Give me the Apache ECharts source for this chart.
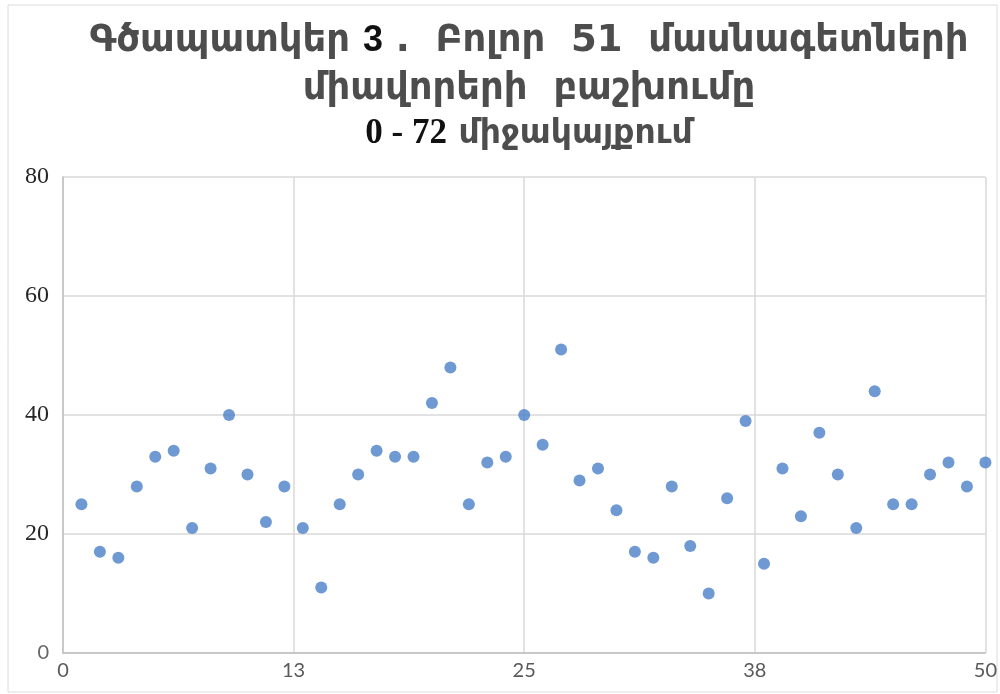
<!DOCTYPE html>
<html>
<head>
<meta charset="utf-8">
<script src="https://cdn.jsdelivr.net/npm/echarts@6/dist/echarts.min.js"></script>
<style>
html,body{margin:0;padding:0;background:#fff;}
#chart{width:1000px;height:694px;}
</style>
</head>
<body>
<div id="chart"></div>
<script>
const specialistIds = [1,2,3,4,5,6,7,8,9,10,11,12,13,14,15,16,17,18,19,20,21,22,23,24,25,26,27,28,29,30,31,32,33,34,35,36,37,38,39,40,41,42,43,44,45,46,47,48,49,50];
const scores = [25,17,16,28,33,34,21,31,40,30,22,28,21,11,25,30,34,33,33,42,48,25,32,33,40,35,51,29,31,24,17,16,28,18,10,26,39,15,31,23,37,30,21,44,25,25,30,32,28,32];
const yTicks = [0,20,40,60,80];
const xTickLabels = ['0','13','25','38','50'];

const points = specialistIds.map((id, i) => [id, scores[i]]);

const chart = echarts.init(document.getElementById('chart'));
chart.setOption({
  backgroundColor: '#ffffff',
  animation: false,
  graphic: [{
    type: 'rect',
    shape: {x: 8, y: 5, width: 989, height: 687},
    style: {fill: 'none', stroke: '#dcdcdc', lineWidth: 1}
  }],
  title: {
    left: 524,
    top: 12,
    textAlign: 'center',
    text: '{a|Գծապատկեր }{b|3}{a| .  Բոլոր  51  մասնագետների}\n{a|միավորերի  բաշխումը}\n{c|0 - 72}{d| միջակայքում}',
    textStyle: {
      rich: {
        a: {fontFamily: 'DejaVu Sans', fontWeight: 'bold', fontSize: 37, color: '#4d4d4d', lineHeight: 48},
        b: {fontFamily: 'Liberation Sans', fontWeight: 'bold', fontSize: 36, color: '#111', lineHeight: 48},
        c: {fontFamily: 'Liberation Serif', fontWeight: 'bold', fontSize: 35, color: '#111', lineHeight: 42},
        d: {fontFamily: 'DejaVu Sans', fontWeight: 'bold', fontSize: 33, color: '#4d4d4d', lineHeight: 42}
      }
    }
  },
  grid: {left: 63, right: 13, top: 177, bottom: 41, containLabel: false},
  xAxis: {
    type: 'value',
    min: 0, max: 50, interval: 12.5,
    axisLine: {show: true, lineStyle: {color: '#bfbfbf', width: 1.5}},
    axisTick: {show: false},
    splitLine: {show: true, lineStyle: {color: '#d9d9d9', width: 1.5}},
    axisLabel: {
      margin: 8,
      fontFamily: 'Lato', fontSize: 20, color: '#595959',
      formatter: v => xTickLabels[Math.round(v / 12.5)]
    }
  },
  yAxis: {
    type: 'value',
    min: yTicks[0], max: yTicks[yTicks.length - 1], interval: 20,
    axisLine: {show: true, lineStyle: {color: '#bfbfbf', width: 1.5}},
    axisTick: {show: false},
    splitLine: {show: true, lineStyle: {color: '#d9d9d9', width: 1.5}},
    axisLabel: {
      margin: 14,
      fontFamily: 'Liberation Serif', fontSize: 24, color: '#262626',
      formatter: v => v === 0 ? '{z|0}' : String(v),
      rich: {z: {fontFamily: 'Lato', fontSize: 20, color: '#666'}}
    }
  },
  series: [{
    type: 'scatter',
    data: points,
    symbol: 'circle',
    symbolSize: 12,
    itemStyle: {color: '#4a80c8'}
  }]
});
</script>
</body>
</html>
